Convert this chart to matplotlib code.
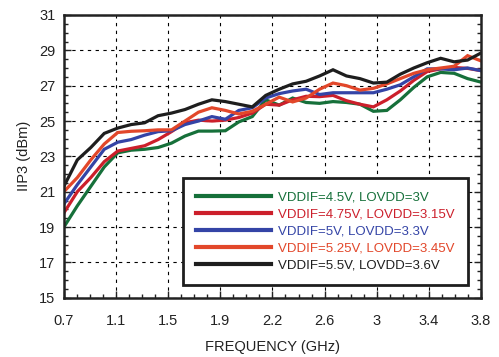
import numpy as np
import matplotlib
matplotlib.use('Agg')
import matplotlib.pyplot as plt

plt.rcParams['font.family'] = ['Liberation Sans', 'DejaVu Sans']

# 频率 (GHz)
freq = [0.7, 0.8, 0.9, 1.0, 1.1, 1.2, 1.3, 1.4, 1.5, 1.6, 1.7, 1.8, 1.9, 2.0, 2.1, 2.2,
        2.3, 2.4, 2.5, 2.6, 2.7, 2.8, 2.9, 3.0, 3.1, 3.2, 3.3, 3.4, 3.5, 3.6, 3.7, 3.8]

# IIP3 (dBm)，不同电源电压
iip3_45 = [19.0, 20.2, 21.3, 22.4, 23.2, 23.35, 23.4, 23.5, 23.75, 24.15, 24.43, 24.43, 24.45, 24.95, 25.25, 26.2,
           25.9, 26.3, 26.05, 26.0, 26.1, 26.05, 25.95, 25.55, 25.6, 26.2, 26.9, 27.5, 27.75, 27.7, 27.4, 27.2]
iip3_475 = [19.8, 21.0, 21.8, 22.7, 23.3, 23.45, 23.6, 23.95, 24.4, 24.9, 25.05, 25.0, 25.05, 25.2, 25.45, 25.95,
            25.9, 26.2, 26.4, 26.38, 26.45, 26.15, 25.95, 25.8, 26.2, 26.7, 27.3, 27.8, 27.95, 28.03, 27.98, 27.85]
iip3_5 = [20.3, 21.4, 22.4, 23.4, 23.8, 23.95, 24.2, 24.4, 24.45, 24.8, 25.0, 25.25, 25.1, 25.6, 25.75, 26.3,
          26.55, 26.7, 26.8, 26.5, 26.6, 26.6, 26.6, 26.6, 26.8, 27.05, 27.5, 27.95, 27.95, 27.9, 28.0, 27.85]
iip3_525 = [21.0, 21.8, 22.8, 23.7, 24.35, 24.42, 24.45, 24.5, 24.5, 25.0, 25.5, 25.75, 25.6, 25.4, 25.55, 25.95,
            26.35, 26.08, 26.3, 26.8, 27.15, 27.0, 26.75, 26.85, 27.1, 27.4, 27.7, 27.9, 28.0, 28.1, 28.7, 28.4]
iip3_55 = [21.3, 22.8, 23.5, 24.3, 24.6, 24.8, 24.9, 25.3, 25.45, 25.65, 25.95, 26.2, 26.1, 25.95, 25.8, 26.45,
           26.8, 27.1, 27.25, 27.55, 27.9, 27.55, 27.4, 27.15, 27.2, 27.65, 28.0, 28.3, 28.55, 28.35, 28.45, 28.85]

labels = ['VDDIF=4.5V, LOVDD=3V', 'VDDIF=4.75V, LOVDD=3.15V', 'VDDIF=5V, LOVDD=3.3V',
          'VDDIF=5.25V, LOVDD=3.45V', 'VDDIF=5.5V, LOVDD=3.6V']
colors = ['#16703a', '#cc1f2b', '#3444a6', '#e2472a', '#1e1e1e']

x_ticks = np.linspace(0.7, 3.8, 9)
x_ticklabels = ['0.7', '1.1', '1.5', '1.9', '2.2', '2.6', '3', '3.4', '3.8']
y_ticks = [15, 17, 19, 21, 23, 25, 27, 29, 31]

fig = plt.figure(figsize=(4.99, 3.57), dpi=100)
ax = fig.add_axes([0.128, 0.166, 0.836, 0.792])

for y, c, lab in zip([iip3_45, iip3_475, iip3_5, iip3_525, iip3_55], colors, labels):
    ax.plot(freq, y, color=c, lw=2.3, label=lab, solid_joinstyle='miter')

ax.set_xlim(0.7, 3.8)
ax.set_ylim(15, 31)
ax.set_xticks(x_ticks)
ax.set_xticklabels(x_ticklabels)
ax.set_xticks(np.linspace(0.7, 3.8, 33), minor=True)
ax.set_yticks(y_ticks)
ax.set_yticks(np.arange(15, 31.01, 0.5), minor=True)
ax.tick_params(which='both', direction='in', right=True, top=False, labelsize=10.5, colors='#222222')
ax.tick_params(which='major', length=5, width=1, pad=12)
ax.tick_params(which='minor', length=3, width=1)
ax.tick_params(axis='y', pad=6)

ax.grid(True, which='major', color='black', ls=(0, (3, 4)), lw=0.8)
for s in ax.spines.values():
    s.set_linewidth(1.8)
    s.set_color('#222222')

ax.set_xlabel('FREQUENCY (GHz)', fontsize=10.5, color='#222222', labelpad=8)
ax.set_ylabel('IIP3 (dBm)', fontsize=10.5, color='#222222', labelpad=6)

leg = ax.legend(loc='lower left', bbox_to_anchor=(0.285, 0.045, 0.684, 0.382), mode='expand',
                fontsize=9.5, labelcolor='linecolor', frameon=True, fancybox=False,
                edgecolor='#1e1e1e', framealpha=1, handlelength=5.7, handletextpad=0.5,
                labelspacing=0.36, borderpad=1.0, borderaxespad=0)
leg.get_frame().set_linewidth(2)
for ln in leg.get_lines():
    ln.set_linewidth(3)

fig.savefig('out.png', dpi=100)
